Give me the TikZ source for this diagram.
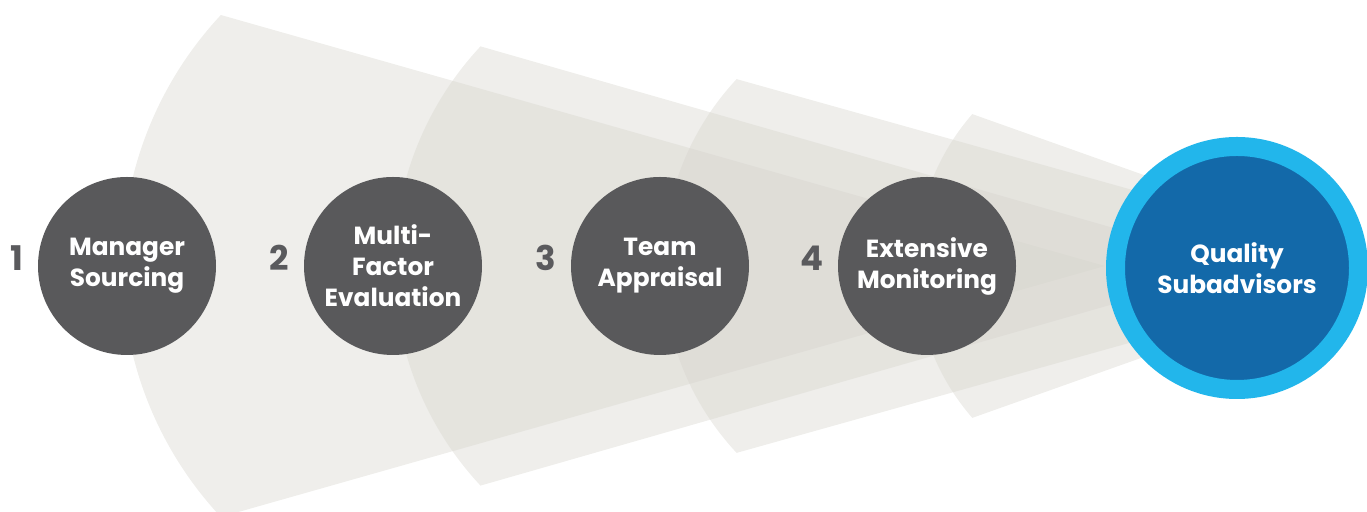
\documentclass[tikz,border=0pt]{standalone}
\usepackage{fontspec}
\setmainfont{Poppins}
\usetikzlibrary{positioning}

\definecolor{fangray}{RGB}{214,212,204}
\definecolor{stepgray}{RGB}{89,89,91}
\definecolor{numgray}{RGB}{90,90,93}
\definecolor{ringblue}{RGB}{34,182,235}
\definecolor{coreblue}{RGB}{19,105,169}

\begin{document}
\begin{tikzpicture}
                    [x=0.5pt, y=0.5pt]
                    \tikzset{fan/.style = {fill=fangray, fill opacity=0.4},
                             stage/.style = {circle, fill=stepgray, minimum size=89pt, inner sep=0pt,
                                             align=center, text=white, font=\fontsize{12.4}{15.5}\selectfont\bfseries},
                             num/.style = {text=numgray, inner sep=0pt, yshift=4pt,
                                           font=\fontsize{17}{19}\selectfont\bfseries},
                             goal/.style = {circle, fill=coreblue, draw=ringblue, line width=9.5pt,
                                            minimum size=121.5pt, inner sep=0pt, align=center,
                                            text=white, font=\fontsize{12.4}{15.5}\selectfont\bfseries}}
                    \useasboundingbox (0,0) rectangle (1367,512);

                    % fans, widest first
                    \foreach \cx/\r/\a/\tip in {490/368/43/1105, 716/322/43/1246, 937/274/43/1404, 1147/231.5/41/1400}
                        \fill[fan] (\cx,246) ++(180+\a:\r) arc[start angle=180+\a, end angle=180-\a, radius=\r]
                            -- (\tip,246) -- cycle;

                    \node[stage] (c1) at (127,246)  {Manager\\Sourcing};
                    \node[stage] (c2) at (393,246)  {Multi-\\Factor\\Evaluation};
                    \node[stage] (c3) at (660,246)  {Team\\Appraisal};
                    \node[stage] (c4) at (927,246)  {Extensive\\Monitoring};
                    \node[goal]  (q)  at (1237,244) {Quality\\Subadvisors};

                    \node[num, left=7pt of c1]   (n1) {1};
                    \node[num, left=7pt of c2]   (n2) {2};
                    \node[num, left=7pt of c3]   (n3) {3};
                    \node[num, left=7pt of c4]   (n4) {4};
                \end{tikzpicture}
\end{document}
